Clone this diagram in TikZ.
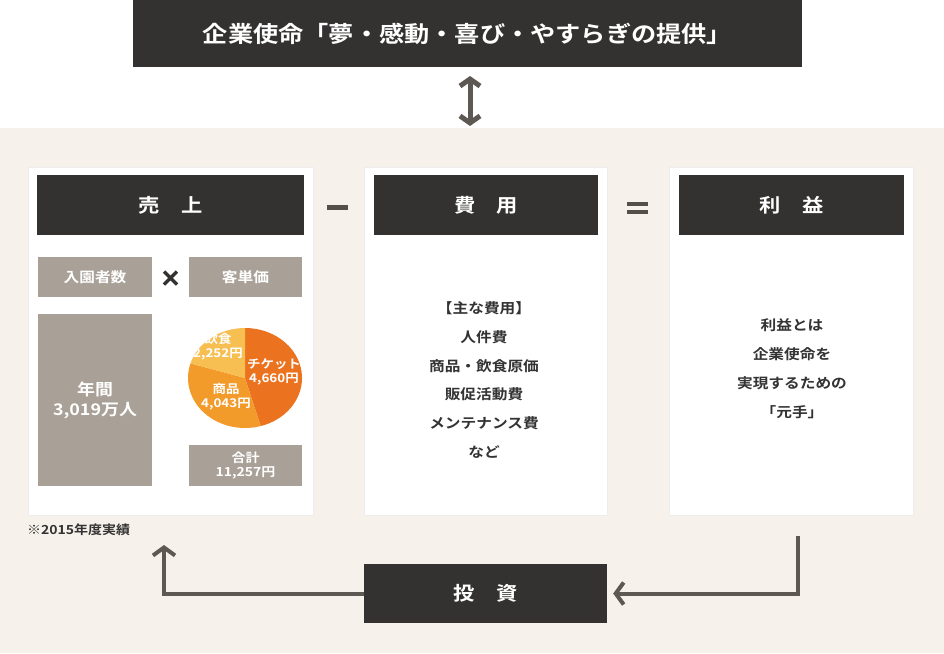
\documentclass[tikz,border=0pt]{standalone}
\usepackage{fontspec}
\setmainfont{Noto Sans CJK JP}[FakeStretch=1.12,BoldFont={Noto Sans CJK JP Bold},BoldFeatures={FakeStretch=1.12}]
\usetikzlibrary{arrows.meta}
\definecolor{bg}{HTML}{F6F2EB}
\definecolor{hdr}{HTML}{333231}
\definecolor{gbox}{HTML}{A9A198}
\definecolor{arr}{HTML}{5E5852}
\definecolor{txt}{HTML}{333333}
\definecolor{oA}{HTML}{EB7320}
\definecolor{oB}{HTML}{F29A2A}
\definecolor{oC}{HTML}{F7BE52}
\tikzset{
  hdrbox/.style={fill=hdr, text=white, inner sep=0pt, font=\fontsize{19}{22}\selectfont\bfseries},
  panel/.style={fill=white, draw=black!7, line width=1pt, inner sep=0pt},
  graybox/.style={fill=gbox, text=white, inner sep=0pt, align=center, font=\fontsize{14}{17}\selectfont\bfseries},
  bodytext/.style={text=txt, align=center, inner sep=0pt},
  pielbl/.style={text=white, align=center, inner sep=0pt, font=\fontsize{12}{14}\selectfont\bfseries},
  conn/.style={draw=arr, line width=4pt, -{Straight Barb[length=8pt,width=22pt,line width=4pt]}},
  dconn/.style={draw=arr, line width=5pt, {Straight Barb[length=7pt,width=20pt,line width=5pt]}-{Straight Barb[length=7pt,width=20pt,line width=5pt]}},
  opbar/.style={fill=arr!90!black},
}
\begin{document}
\begin{tikzpicture}[x=1pt,y=-1pt]
\useasboundingbox (0,0) rectangle (944,653);
\fill[white] (0,0) rectangle (944,653);
\fill[bg] (0,128) rectangle (944,653);

% top mission bar
\node[hdrbox, minimum width=669pt, minimum height=67pt, font=\fontsize{22.5}{26}\selectfont\bfseries] (top) at (467.5,33.5) {企業使命「夢・感動・喜び・やすらぎの提供」};
\coordinate (da1) at (470,76);
\coordinate (da2) at (470,126);
\draw[dconn] (da1) -- (da2);

% panels
\node[panel, minimum width=285pt, minimum height=348pt] (p1) at (170.5,341) {};
\node[panel, minimum width=243pt, minimum height=348pt] (p2) at (485.5,341) {};
\node[panel, minimum width=244pt, minimum height=348pt] (p3) at (791,341) {};

\node[hdrbox, minimum width=267pt, minimum height=60pt] (h1) at (170.5,205) {売　上};
\node[hdrbox, minimum width=224pt, minimum height=60pt] (h2) at (486,205) {費　用};
\node[hdrbox, minimum width=225pt, minimum height=60pt] (h3) at (791.5,205) {利　益};

% operators
\fill[opbar] (327,205) rectangle (348,209.5);
\fill[opbar] (627,201.5) rectangle (648,206);
\fill[opbar] (627,209.5) rectangle (648,214);

% sales contents
\node[graybox, minimum width=114pt, minimum height=40pt] (g1) at (95,277) {入園者数};
\node[graybox, minimum width=113pt, minimum height=40pt] (g2) at (245.5,277) {客単価};
\draw[line width=3.5pt, draw=hdr] (164,271.5) -- (177,284.5) (164,284.5) -- (177,271.5);
\node[graybox, minimum width=114pt, minimum height=172pt, font=\fontsize{16}{20}\selectfont\bfseries] (g3) at (95,400) {年間\\3,019万人};
\node[graybox, minimum width=113pt, minimum height=41pt, font=\fontsize{12.5}{14}\selectfont\bfseries] (g4) at (245.5,465.5) {合計\\11,257円};

% pie
\begin{scope}[shift={(245,378)}, yscale=-1]
  \fill[oA] (0,0) -- (90:57 and 50) arc[start angle=90, end angle=-74, x radius=57, y radius=50] -- cycle;
  \fill[oB] (0,0) -- (-74:57 and 50) arc[start angle=-74, end angle=-197, x radius=57, y radius=50] -- cycle;
  \fill[oC] (0,0) -- (163:57 and 50) arc[start angle=163, end angle=90, x radius=57, y radius=50] -- cycle;
\end{scope}
\node[pielbl] (l1) at (218,346.5) {飲食\\2,252円};
\node[pielbl] (l2) at (274,371.5) {チケット\\4,660円};
\node[pielbl] (l3) at (226,397) {商品\\4,043円};

\node[text=txt, anchor=west, inner sep=0pt, font=\fontsize{12.5}{14}\selectfont\bfseries] (note) at (27,530) {※2015年度実績};

% cost text
\node[bodytext, font=\fontsize{14}{28.8}\selectfont\bfseries] (t2) at (484,380) {【主な費用】\\人件費\\商品・飲食原価\\販促活動費\\メンテナンス費\\など};
% profit text
\node[bodytext, font=\fontsize{14}{28.8}\selectfont\bfseries] (t3) at (792,368.5) {利益とは\\企業使命を\\実現するための\\「元手」};

% investment
\node[hdrbox, minimum width=243pt, minimum height=59pt] (inv) at (485.5,593.5) {投　資};
\coordinate (lt) at (164,545);
\coordinate (rt) at (798,536);
\draw[conn] (inv.west) -| (lt);
\draw[conn, shorten >=6pt] (rt) |- (inv.east);
\end{tikzpicture}
\end{document}
